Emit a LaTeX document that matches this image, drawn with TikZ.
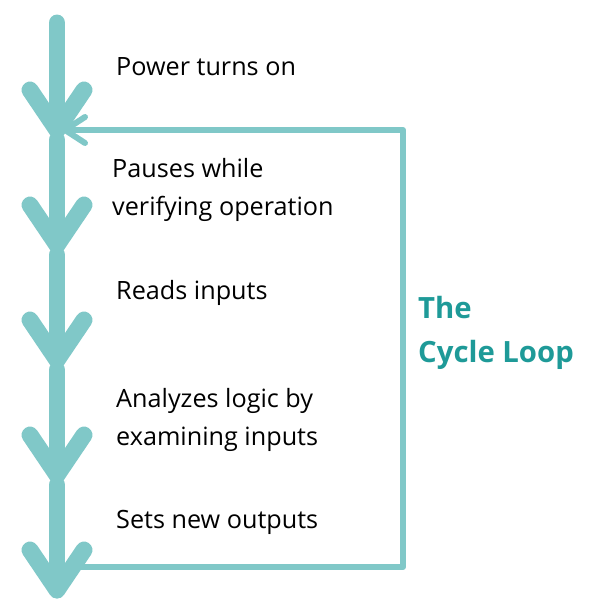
\documentclass[tikz,border=0pt]{standalone}
\usepackage{fontspec}
\setmainfont{Open Sans}
\usetikzlibrary{calc}
\definecolor{loopteal}{HTML}{80C8C8}
\definecolor{titleteal}{HTML}{1E9A98}
\begin{document}
\begin{tikzpicture}[x=0.03cm,y=-0.03cm]
\tikzset{ step line/.style={loopteal, line width=17*0.85pt, line cap=round, line join=round},
  loop line/.style={loopteal, line width=6*0.85pt, line cap=round, line join=round},
  caption/.style={anchor=west, align=left, font=\fontsize{21.5}{32}\selectfont, inner sep=0pt},
  title/.style={anchor=west, align=left, font=\fontsize{25}{37}\selectfont\bfseries, text=titleteal, inner sep=0pt} }

\useasboundingbox (0,0) rectangle (600,613);

%\draw [lightgray, dashed](0,0) grid[step=50] (600,613);

% vertical steps
\foreach \i/\ys/\ye in {1/23/130, 2/140/245, 3/255/360, 4/370/475, 5/485/590} {
  \coordinate (S\i) at (57,\ys);
  \coordinate (E\i) at (57,\ye);
  \draw [step line] (S\i) -- (E\i);
  \draw [step line] ($(E\i)+(-27,-40)$) -- (E\i) -- ($(E\i)+(27,-40)$);
}

\node [caption] (power)   at (116,67)  {Power turns on};
\node [caption] (pauses)  at (112,190) {Pauses while\\verifying operation};
\node [caption] (reads)   at (116,293) {Reads inputs};
\node [caption] (analyze) at (116,420) {Analyzes logic by\\examining inputs};
\node [caption] (sets)    at (116,522) {Sets new outputs};

\node [title] (cycle) at (418,333) {The\\Cycle Loop};

% the loop back
\coordinate (B) at (80,567);
\coordinate (BR) at (403,567);
\coordinate (TR) at (403,130);
\coordinate (T) at (65,130);
\draw [loop line] (B) -- (BR) -- (TR) -- (T);
\draw [loop line] ($(T)+(20,-13)$) -- (T) -- ($(T)+(20,13)$);

\end{tikzpicture}
\end{document}
